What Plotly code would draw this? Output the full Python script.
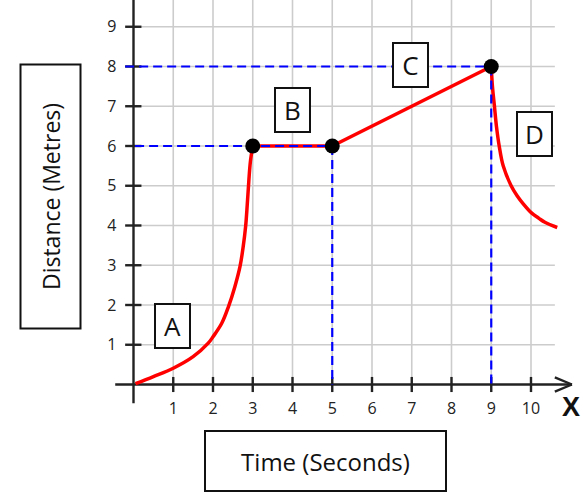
import plotly.graph_objects as go

# distance-time readings (seconds, metres)
t_a = [0.05, 0.5, 1.0, 1.5, 1.88, 2.0, 2.22, 2.39, 2.55, 2.68, 2.76, 2.82, 2.86, 2.9, 2.94, 3.0]
d_a = [0.02, 0.2, 0.41, 0.7, 1.04, 1.2, 1.54, 1.96, 2.46, 2.97, 3.47, 3.97, 4.5, 5.1, 5.6, 6.0]
t_b = [3, 5]
d_b = [6, 6]
t_c = [5, 9]
d_c = [6, 8]
t_d = [9.0, 9.03, 9.08, 9.13, 9.2, 9.3, 9.5, 9.65, 9.81, 10.02, 10.2, 10.35, 10.66]
d_d = [8.0, 7.5, 7.0, 6.5, 6.0, 5.5, 5.0, 4.75, 4.54, 4.31, 4.18, 4.08, 3.95]

key_t = [3, 5, 9]
key_d = [6, 6, 8]

x_ticks = [1, 2, 3, 4, 5, 6, 7, 8, 9, 10]
y_ticks = [1, 2, 3, 4, 5, 6, 7, 8, 9]

stage_labels = ["A", "B", "C", "D"]
stage_t = [0.99, 3.99, 6.98, 10.08]
stage_d = [1.47, 6.91, 8.04, 6.31]

# pixel layout of the 588x500 picture
W, H = 588, 500
X0, Y0 = 133.5, 384.5     # pixel of origin
PX = 39.75                # pixels per unit
XMIN, XMAX = -X0 / PX, (W - X0) / PX
YMIN, YMAX = -(H - Y0) / PX, Y0 / PX


def segs(pairs):
    xs, ys = [], []
    for (x1, y1), (x2, y2) in pairs:
        xs += [x1, x2, None]
        ys += [y1, y2, None]
    return xs, ys


fig = go.Figure()

# grid
gx, gy = segs([((v, 0), (v, YMAX)) for v in x_ticks] +
              [((0, v), (10.6, v)) for v in y_ticks])
fig.add_trace(go.Scatter(x=gx, y=gy, mode="lines",
                         line=dict(color="#cccccc", width=1.6), hoverinfo="skip"))

# axes + crossing ticks + arrow head
ax, ay = segs([((-0.46, 0), (11.03, 0)), ((0, -0.47), (0, YMAX)),
               ((10.6, 0.18), (11.03, 0)), ((10.6, -0.18), (11.03, 0))] +
              [((v, -0.19), (v, 0.19)) for v in x_ticks] +
              [((-0.21, v), (0.2, v)) for v in y_ticks])
fig.add_trace(go.Scatter(x=ax, y=ay, mode="lines",
                         line=dict(color="#222222", width=2.4), hoverinfo="skip"))

# journey
for tt, dd, shape in [(t_a, d_a, "spline"), (t_b, d_b, "linear"),
                      (t_c, d_c, "linear"), (t_d, d_d, "spline")]:
    fig.add_trace(go.Scatter(x=tt, y=dd, mode="lines", line_shape=shape,
                             line=dict(color="#ff0000", width=3.5)))

# dashed guides
bx, by = segs([((-0.21, 8), (9, 8)), ((0.04, 6), (5, 6)),
               ((5, 6), (5, 0)), ((9, 8), (9, 0))])
fig.add_trace(go.Scatter(x=bx, y=by, mode="lines",
                         line=dict(color="#0000ff", width=2.2, dash="9px,5px"),
                         hoverinfo="skip"))

fig.add_trace(go.Scatter(x=key_t, y=key_d, mode="markers",
                         marker=dict(color="black", size=15)))

for lab, tt, dd in zip(stage_labels, stage_t, stage_d):
    fig.add_annotation(x=tt, y=dd, text=lab, showarrow=False,
                       xanchor="center", yanchor="middle",
                       font=dict(family="Open Sans", size=26, color="#111111"),
                       width=33, height=42, bgcolor="white",
                       bordercolor="#111111", borderwidth=2, borderpad=0)

fig.add_annotation(x=50.5 / W, y=1 - 197 / H, xref="paper", yref="paper",
                   xanchor="center", yanchor="middle",
                   text="Distance (Metres)", textangle=-90, showarrow=False,
                   font=dict(family="Open Sans", size=23, color="#111111"),
                   width=262, height=58, bgcolor="white",
                   bordercolor="#111111", borderwidth=2, borderpad=0)

fig.add_annotation(x=325 / W, y=1 - 461 / H, xref="paper", yref="paper",
                   xanchor="center", yanchor="middle",
                   text="Time (Seconds)", showarrow=False, align="center",
                   font=dict(family="Open Sans", size=24, color="#111111"),
                   width=239, height=58, bgcolor="white",
                   bordercolor="#111111", borderwidth=2, borderpad=0)

fig.add_annotation(x=571 / W, y=1 - 407 / H, xref="paper", yref="paper",
                   xanchor="center", yanchor="middle",
                   text="<b>X</b>", showarrow=False,
                   font=dict(family="Liberation Sans", size=27, color="#111111"))

fig.update_layout(
    width=W, height=H, showlegend=False,
    margin=dict(l=0, r=0, t=0, b=0),
    plot_bgcolor="white", paper_bgcolor="white",
    xaxis=dict(range=[XMIN, XMAX], anchor="free", position=(H - Y0) / H,
               tickvals=x_ticks, ticks="outside", ticklen=9,
               tickcolor="rgba(0,0,0,0)", showgrid=False, zeroline=False,
               showline=False, fixedrange=True,
               tickfont=dict(family="Open Sans", size=16, color="#222222")),
    yaxis=dict(range=[YMIN, YMAX], anchor="free", position=X0 / W,
               tickvals=y_ticks, ticks="outside", ticklen=14,
               tickcolor="rgba(0,0,0,0)", showgrid=False, zeroline=False,
               showline=False, fixedrange=True,
               tickfont=dict(family="Open Sans", size=16, color="#222222")),
)

# drop the browser's default page margin so the chart sits at the top-left corner
fig.write_html("out.html", config={"displayModeBar": False},
               post_script="document.body.style.margin='0';")
